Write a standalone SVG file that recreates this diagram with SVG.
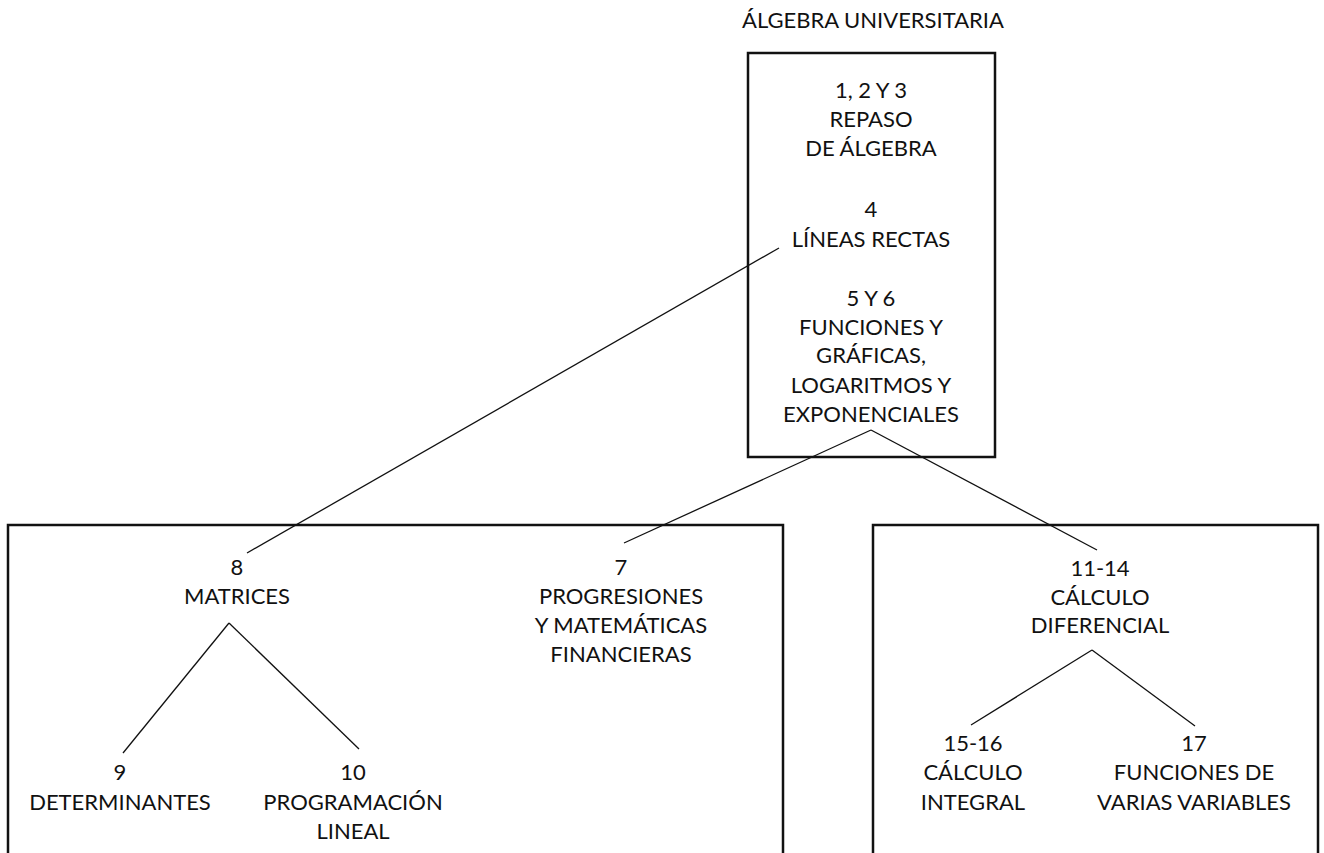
<svg xmlns="http://www.w3.org/2000/svg" width="1324" height="853" viewBox="0 0 1324 853">
<style>
text{font-family:Lato,"Open Sans","Noto Sans",sans-serif;font-size:22px;fill:#111;text-anchor:middle}
.box{fill:none;stroke:#111;stroke-width:2.5}
.ln{stroke:#111;stroke-width:1.3;fill:none}
</style>
<rect width="1324" height="853" fill="#fff"/>
<text x="873" y="28">ÁLGEBRA UNIVERSITARIA</text>
<g id="connectors">
<line class="ln" x1="779" y1="248" x2="247" y2="553"/>
<line class="ln" x1="871" y1="430" x2="624" y2="543"/>
<line class="ln" x1="871" y1="430" x2="1097" y2="550"/>
<line class="ln" x1="229" y1="623" x2="123" y2="753"/>
<line class="ln" x1="229" y1="623" x2="359" y2="749"/>
<line class="ln" x1="1092" y1="650" x2="971" y2="725"/>
<line class="ln" x1="1092" y1="650" x2="1195" y2="726"/>
</g>
<g id="algebra">
<rect class="box" x="748" y="53" width="247" height="404"/>
<text x="871" y="98">1, 2 Y 3</text>
<text x="871" y="127">REPASO</text>
<text x="871" y="156">DE ÁLGEBRA</text>
<text x="871" y="217">4</text>
<text x="871" y="247">LÍNEAS RECTAS</text>
<text x="871" y="306">5 Y 6</text>
<text x="871" y="335">FUNCIONES Y</text>
<text x="871" y="363">GRÁFICAS,</text>
<text x="871" y="393">LOGARITMOS Y</text>
<text x="871" y="422">EXPONENCIALES</text>
</g>
<g id="left-box"><rect class="box" x="8" y="525" width="775" height="340"/></g>
<g id="right-box"><rect class="box" x="873" y="525" width="445" height="340"/></g>
<g id="matrices"><text x="237" y="575">8</text><text x="237" y="604">MATRICES</text></g>
<g id="determinantes"><text x="120" y="780">9</text><text x="120" y="810">DETERMINANTES</text></g>
<g id="programacion"><text x="353" y="780">10</text><text x="353" y="810">PROGRAMACIÓN</text><text x="353" y="839">LINEAL</text></g>
<g id="progresiones"><text x="621" y="575">7</text><text x="621" y="604">PROGRESIONES</text><text x="621" y="633">Y MATEMÁTICAS</text><text x="621" y="662">FINANCIERAS</text></g>
<g id="diferencial"><text x="1100" y="576">11-14</text><text x="1100" y="605">CÁLCULO</text><text x="1100" y="633">DIFERENCIAL</text></g>
<g id="integral"><text x="973" y="751">15-16</text><text x="973" y="780">CÁLCULO</text><text x="973" y="810">INTEGRAL</text></g>
<g id="varias"><text x="1194" y="751">17</text><text x="1194" y="780">FUNCIONES DE</text><text x="1194" y="810">VARIAS VARIABLES</text></g>
</svg>
